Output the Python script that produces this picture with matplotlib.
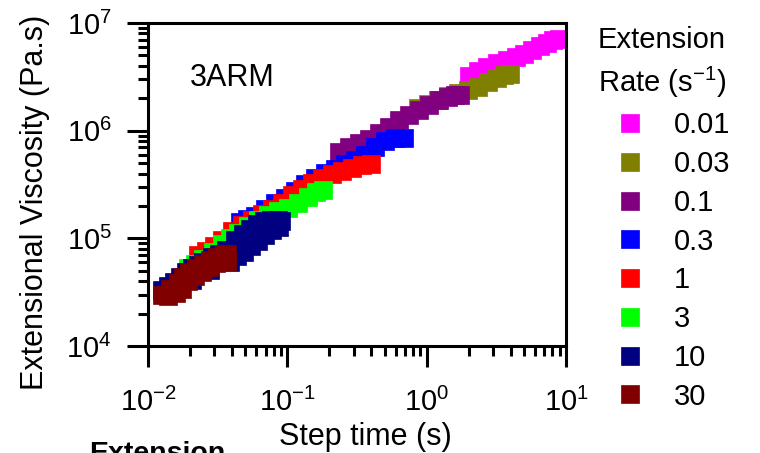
import matplotlib
matplotlib.use('Agg')
import matplotlib.pyplot as plt
from matplotlib.lines import Line2D

plt.rcParams['font.family'] = 'Liberation Sans'
plt.rcParams['mathtext.fontset'] = 'custom'
plt.rcParams['mathtext.rm'] = 'Liberation Sans'
plt.rcParams['mathtext.it'] = 'Liberation Sans:italic'
plt.rcParams['mathtext.bf'] = 'Liberation Sans:bold'

rates = ['0.01', '0.03', '0.1', '0.3', '1', '3', '10', '30']
colors = ['#ff00ff', '#808000', '#800080', '#0000ff',
          '#ff0000', '#00ff00', '#000080', '#800000']

# step time (s) / extensional viscosity (Pa.s)
t_001 = [2.02, 2.34, 2.71, 3.20, 3.78, 4.38, 5.00, 5.71, 6.52, 7.32, 8.08, 8.92]
eta_001 = [3.22e6, 3.58e6, 3.90e6, 4.25e6, 4.53e6, 4.83e6, 5.15e6, 5.61e6,
           6.11e6, 6.52e6, 6.95e6, 7.10e6]

t_003 = [0.868, 1.02, 1.21, 1.42, 1.68, 1.98, 2.34, 2.76, 3.20, 3.59, 3.97]
eta_003 = [1.63e6, 1.77e6, 1.93e6, 2.10e6, 2.24e6, 2.39e6, 2.55e6, 2.83e6,
           3.09e6, 3.29e6, 3.36e6]

t_01 = [0.235, 0.277, 0.327, 0.386, 0.455, 0.537, 0.634, 0.748, 0.882,
        1.04, 1.23, 1.42, 1.60, 1.74]
eta_01 = [6.34e5, 7.06e5, 7.69e5, 8.37e5, 9.52e5, 1.08e6, 1.26e6, 1.40e6,
          1.56e6, 1.73e6, 1.93e6, 2.06e6, 2.15e6, 2.15e6]

t_03 = [0.0458, 0.0514, 0.0586, 0.0692, 0.0816, 0.0963, 0.114, 0.134, 0.158,
        0.187, 0.220, 0.260, 0.306, 0.361, 0.426, 0.503, 0.593, 0.688]
eta_03 = [1.42e5, 1.51e5, 1.61e5, 1.88e5, 2.13e5, 2.37e5, 2.75e5, 3.20e5,
          3.64e5, 4.05e5, 4.41e5, 4.91e5, 5.35e5, 5.95e5, 7.06e5, 8.03e5,
          8.55e5, 8.55e5]

t_1 = [0.0229, 0.0261, 0.0298, 0.0340, 0.0401, 0.0473, 0.0558, 0.0658, 0.0777,
       0.0916, 0.108, 0.128, 0.150, 0.178, 0.209, 0.247, 0.291, 0.344, 0.399]
eta_1 = [7.01e4, 7.64e4, 8.50e4, 9.66e4, 1.17e5, 1.33e5, 1.48e5, 1.69e5,
         1.88e5, 2.13e5, 2.53e5, 2.88e5, 3.27e5, 3.64e5, 3.96e5, 4.23e5,
         4.51e5, 4.80e5, 4.91e5]

t_3 = [0.0194, 0.0218, 0.0248, 0.0293, 0.0340, 0.0388, 0.0443, 0.0522, 0.0616,
       0.0727, 0.0858, 0.101, 0.119, 0.141, 0.161, 0.180]
eta_3 = [5.31e4, 5.79e4, 6.44e4, 7.48e4, 8.87e4, 1.01e5, 1.12e5, 1.30e5,
         1.48e5, 1.65e5, 1.80e5, 1.92e5, 2.13e5, 2.42e5, 2.70e5, 2.81e5]

t_10 = [0.0126, 0.0139, 0.0154, 0.0170, 0.0187, 0.0207, 0.0207, 0.0229, 0.0248,
        0.0279, 0.0288, 0.0323, 0.0363, 0.0388, 0.0421, 0.0436, 0.0481, 0.0489,
        0.0540, 0.0549, 0.0606, 0.0616, 0.0680, 0.0692, 0.0764, 0.0777, 0.0858,
        0.0872, 0.0901]
eta_10 = [3.32e4, 3.61e4, 3.94e4, 4.38e4, 4.88e4, 5.31e4, 4.11e4, 5.66e4,
          6.04e4, 5.09e4, 6.72e4, 7.16e4, 7.80e4, 6.04e4, 9.66e4, 6.86e4,
          1.10e5, 7.48e4, 1.22e5, 8.50e4, 1.36e5, 9.46e4, 1.45e5, 1.08e5,
          1.48e5, 1.20e5, 1.48e5, 1.28e5, 1.45e5]

t_30 = [0.0126, 0.0139, 0.0144, 0.0159, 0.0164, 0.0175, 0.0178, 0.0194, 0.0197,
        0.0218, 0.0221, 0.0244, 0.0248, 0.0274, 0.0279, 0.0308, 0.0313, 0.0346,
        0.0351, 0.0369, 0.0369]
eta_30 = [2.98e4, 2.92e4, 3.39e4, 3.11e4, 3.85e4, 3.39e4, 4.38e4, 4.02e4,
          4.88e4, 4.48e4, 5.31e4, 4.88e4, 5.79e4, 5.43e4, 6.30e4, 5.91e4,
          6.72e4, 6.17e4, 7.01e4, 6.17e4, 7.16e4]

times = [t_001, t_003, t_01, t_03, t_1, t_3, t_10, t_30]
visc = [eta_001, eta_003, eta_01, eta_03, eta_1, eta_3, eta_10, eta_30]

fig = plt.figure(figsize=(7.6, 4.53), dpi=100)
ax = fig.add_axes([148 / 760, 1 - 346 / 453, 418 / 760, 323 / 453])

MS = 12.5
for i, (t, eta, c) in enumerate(zip(times, visc, colors)):
    # thick trace under the squares so the band reads as continuous
    ax.plot(t, eta, ls='-', lw=7.5, color=c, solid_capstyle='butt', zorder=2 + i)
    ax.plot(t, eta, ls='none', marker='s', ms=MS, mew=0.5, color=c, zorder=2 + i)

ax.set_xscale('log')
ax.set_yscale('log')
ax.set_xlim(1e-2, 1e1)
ax.set_ylim(1e4, 1e7)

for s in ax.spines.values():
    s.set_linewidth(2.2)
    s.set_zorder(20)
ax.tick_params(which='major', direction='out', length=15, width=2.2,
               labelsize=21, top=False, right=False)
ax.tick_params(which='minor', direction='out', length=7.5, width=2.2,
               top=False, right=False)
ax.tick_params(axis='x', which='major', pad=15)
ax.tick_params(axis='y', which='major', pad=11)

ax.set_xlabel('Step time (s)', fontsize=22)
ax.set_ylabel('Extensional Viscosity (Pa.s)', fontsize=22)
ax.xaxis.set_label_coords(0.519, -0.235)
ax.yaxis.set_label_coords(-0.234, 0.446)

ax.text(0.1, 0.805, '3ARM', transform=ax.transAxes, fontsize=22,
        va='baseline')

handles = [Line2D([], [], ls='none', marker='s', ms=MS, mew=0.5, color=c)
           for c in colors]
leg = ax.legend(handles, rates, title='Extension\nRate (s$^{-1}$)',
                loc='upper left', bbox_to_anchor=(598 / 760, 0.942),
                bbox_transform=fig.transFigure, frameon=False,
                fontsize=21, title_fontsize=21, alignment='left',
                handlelength=2.19, handletextpad=0.41, labelspacing=0.37,
                borderpad=0, borderaxespad=0)
leg.get_title().set_linespacing(1.4)

# cut-off heading of the panel below
fig.text(89 / 760, -0.0166, 'Extension', fontsize=20.5, fontweight='bold',
         va='baseline')

fig.savefig('out.png', dpi=100)
